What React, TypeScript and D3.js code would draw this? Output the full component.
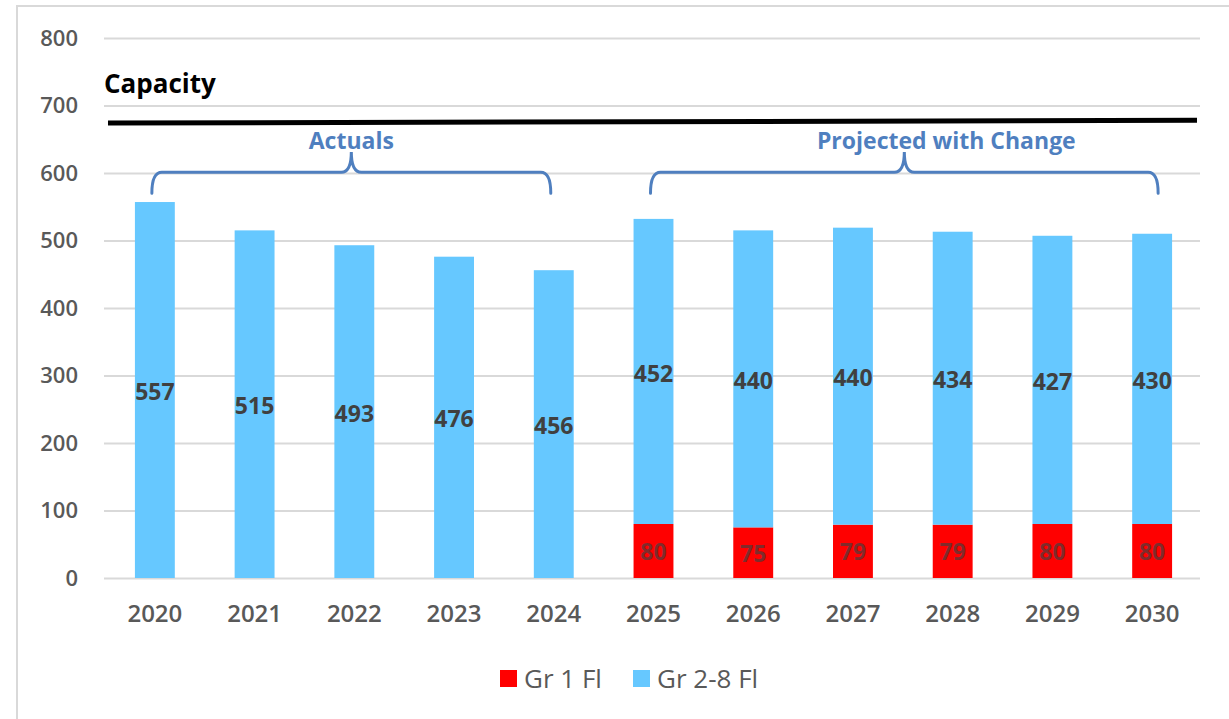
import { useRef, useEffect } from 'react';
import * as d3 from 'd3';

const years = ['2020', '2021', '2022', '2023', '2024', '2025', '2026', '2027', '2028', '2029', '2030'];
const gr1 = [0, 0, 0, 0, 0, 80, 75, 79, 79, 80, 80];
const gr28 = [557, 515, 493, 476, 456, 452, 440, 440, 434, 427, 430];
const yTicks = [0, 100, 200, 300, 400, 500, 600, 700, 800];
const capacity = [674, 678];
const groups = [
  { label: 'Actuals', from: '2020', to: '2024' },
  { label: 'Projected with Change', from: '2025', to: '2030' },
];
const seriesNames = ['Gr 1 Fl', 'Gr 2-8 Fl'];

const RED = '#ff0000';
const BLUE = '#66c8ff';
const BRACKET = '#4f7fbf';
const FONT = '"Open Sans", sans-serif';

export default function App() {
  const svgRef = useRef<SVGSVGElement>(null);

  useEffect(() => {
    document.body.style.margin = '0';
    if (!svgRef.current) return;
    const svg = d3.select(svgRef.current);
    svg.selectAll('*').remove();

    const width = 1229;
    const height = 719;
    const margin = { top: 38, right: 29, bottom: 141, left: 104 };
    const innerW = width - margin.left - margin.right;
    const innerH = height - margin.top - margin.bottom;

    // Frame
    svg.append('path')
      .attr('d', `M17,${height} L17,6 L${width},6`)
      .attr('fill', 'none').attr('stroke', '#d9d9d9').attr('stroke-width', 2);

    const x = d3.scaleBand().domain(years).range([1, innerW + 2]).paddingInner(0.6).paddingOuter(0.3);
    const y = d3.scaleLinear().domain([0, 800]).range([innerH, 0]);

    const g = svg.append('g').attr('transform', `translate(${margin.left},${margin.top})`);

    // Grid + y labels
    g.append('g')
      .call(d3.axisLeft(y).tickValues(yTicks).tickSize(-innerW).tickPadding(26))
      .call((a) => {
        a.select('.domain').remove();
        a.selectAll('line').attr('stroke', '#d9d9d9').attr('stroke-width', 2);
        a.selectAll('text')
          .attr('fill', '#595959').style('font-family', FONT)
          .style('font-size', '22px').style('font-weight', 600);
      });

    // Bars
    const bw = x.bandwidth();
    years.forEach((yr, i) => {
      const x0 = x(yr)!;
      if (gr1[i] > 0) {
        g.append('rect')
          .attr('x', x0).attr('width', bw)
          .attr('y', y(gr1[i])).attr('height', y(0) - y(gr1[i]))
          .attr('fill', RED);
      }
      g.append('rect')
        .attr('x', x0).attr('width', bw)
        .attr('y', y(gr1[i] + gr28[i])).attr('height', y(gr1[i]) - y(gr1[i] + gr28[i]))
        .attr('fill', BLUE);
    });

    // Bar labels
    years.forEach((yr, i) => {
      const cx = x(yr)! + bw / 2;
      g.append('text')
        .attr('x', cx).attr('y', y(gr1[i] + gr28[i] / 2) + 2)
        .attr('dy', '0.35em').attr('text-anchor', 'middle')
        .attr('fill', '#404040').style('font-family', FONT)
        .style('font-size', '23px').style('font-weight', 700)
        .text(gr28[i]);
      if (gr1[i] > 0) {
        g.append('text')
          .attr('x', cx).attr('y', y(gr1[i] / 2) + 1)
          .attr('dy', '0.35em').attr('text-anchor', 'middle')
          .attr('fill', '#7f2b2b').style('font-family', FONT)
          .style('font-size', '23px').style('font-weight', 700)
          .text(gr1[i]);
      }
    });

    // X labels
    g.append('g')
      .attr('transform', `translate(0,${innerH})`)
      .call(d3.axisBottom(x).tickSize(0).tickPadding(27))
      .call((a) => {
        a.select('.domain').remove();
        a.selectAll('text')
          .attr('fill', '#595959').style('font-family', FONT)
          .style('font-size', '24px').style('font-weight', 600);
      });

    // Capacity line
    g.append('line')
      .attr('x1', 4).attr('x2', innerW - 3)
      .attr('y1', y(capacity[0])).attr('y2', y(capacity[1]))
      .attr('stroke', '#000').attr('stroke-width', 5);
    g.append('text')
      .attr('x', 0).attr('y', y(700) - 13)
      .attr('fill', '#000').style('font-family', FONT)
      .style('font-size', '26px').style('font-weight', 700)
      .text('Capacity');

    // Brackets
    const yH = y(601);
    const yTip = y(570);
    const yPeak = y(631);
    const r = 10;
    const labelShift = [0, 42];
    const rightExtra = [-3, 6];
    groups.forEach((grp, i) => {
      const x0 = x(grp.from)! + bw / 2 - 3;
      const x1 = x(grp.to)! + bw / 2 + rightExtra[i];
      const xc = (x0 + x1) / 2;
      const p = d3.path();
      p.moveTo(x0, yTip);
      p.quadraticCurveTo(x0, yH, x0 + r, yH);
      p.lineTo(xc - r, yH);
      p.quadraticCurveTo(xc, yH, xc, yPeak);
      p.quadraticCurveTo(xc, yH, xc + r, yH);
      p.lineTo(x1 - r, yH);
      p.quadraticCurveTo(x1, yH, x1, yTip);
      g.append('path')
        .attr('d', p.toString())
        .attr('fill', 'none').attr('stroke', BRACKET)
        .attr('stroke-width', 3).attr('stroke-linecap', 'round');
      g.append('text')
        .attr('x', xc + labelShift[i]).attr('y', yPeak - 3)
        .attr('text-anchor', 'middle')
        .attr('fill', BRACKET).style('font-family', FONT)
        .style('font-size', '23px').style('font-weight', 700)
        .text(grp.label);
    });

    // Legend
    const legend = svg.append('g').attr('transform', `translate(500, 670)`);
    const colors = [RED, BLUE];
    const offsets = [0, 133];
    seriesNames.forEach((name, i) => {
      legend.append('rect')
        .attr('x', offsets[i]).attr('y', 0).attr('width', 17).attr('height', 17)
        .attr('fill', colors[i]);
      legend.append('text')
        .attr('x', offsets[i] + 24).attr('y', 8.5).attr('dy', '0.36em')
        .attr('fill', '#595959').style('font-family', FONT)
        .style('font-size', '26px').style('font-weight', 500)
        .text(name);
    });
  }, []);

  return <svg ref={svgRef} width={1229} height={719} style={{ display: 'block', background: '#fff' }} />;
}
